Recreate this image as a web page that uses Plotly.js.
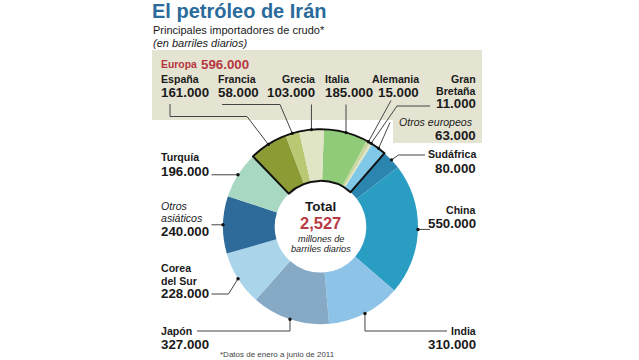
<!DOCTYPE html>
<html><head><meta charset="utf-8">
<script src="https://cdn.plot.ly/plotly-3.0.1.min.js"></script>
<style>html,body{margin:0;padding:0;background:#fff}#chart{width:639px;height:360px}</style>
</head><body><div id="chart"></div>
<script>
// ---- data ----
const countries = ['Italia','Alemania','Gran Bretaña','Otros europeos','Sudáfrica','China','India','Japón','Corea del Sur','Otros asiáticos','Turquía','España','Francia','Grecia'];
const barrels = [185000,15000,11000,63000,80000,550000,310000,327000,228000,240000,196000,161000,58000,103000];
const isEurope = [true,true,true,true,false,false,false,false,false,false,false,true,true,true];
const sliceColors = ['#8fcb78','#c9d59c','#dde3c2','#7fc8e8','#2b85ae','#2a9dc3','#8ec3e8','#86aac6','#a9d4ea','#2e6a9a','#a8d7c2','#8d9b35','#b9c873','#dfe5c5'];
const titleText = 'El petróleo de Irán';
const subtitleText = 'Principales importadores de crudo*';
const unitText = '(en barriles diarios)';
const europeName = 'Europa';
const centerTitle = 'Total';
const centerUnit = ['millones de','barriles diarios'];
const footnote = '*Datos de enero a junio de 2011';

// ---- layout constants ----
const W = 639, H = 360;
const CX = 320.5, CY = 226.7, R = 97.5, HOLE = 0.47, ROT = 2;
const FONT = 'Liberation Sans, Arial, Helvetica, sans-serif';
const px = x => x / W, py = y => 1 - y / H;
const fmt = n => String(n).replace(/\B(?=(\d{3})+(?!\d))/g, '.');

const total = barrels.reduce((a, b) => a + b, 0);
const europeSum = barrels.reduce((a, v, i) => a + (isEurope[i] ? v : 0), 0);

// label placement (layout only)
const labelLayout = {
  'España':         {x:160,   a:'left',  lines:['España'], ys:[79], numY:93,   path:[[170,104],[170,116.5],[247,116.5]]},
  'Francia':        {x:216.5, a:'left',  lines:['Francia'], ys:[79], numY:93,  path:[[222,104.5],[280,104.5]]},
  'Grecia':         {x:316,   a:'right', lines:['Grecia'], ys:[79], numY:93,   path:[['d',104.5]]},
  'Italia':         {x:324,   a:'left',  lines:['Italia'], ys:[79], numY:93,   path:[['d',104.5]]},
  'Alemania':       {x:420,   a:'right', lines:['Alemania'], ys:[79], numY:93, path:[[391,100.5]]},
  'Gran Bretaña':   {x:477,   a:'right', lines:['Gran','Bretaña'], ys:[79,91], numY:103.5, path:[[430,106],[397,106]]},
  'Otros europeos': {x:474,   a:'right', italic:true, lines:['Otros europeos'], ys:[121.5], numY:135, numX:477, path:[[390,122.5]]},
  'Sudáfrica':      {x:477,   a:'right', lines:['Sudáfrica'], ys:[154], numY:168, path:[[425,155],[398.5,155]]},
  'China':          {x:477,   a:'right', lines:['China'], ys:[210], numY:223.5, path:[[430,'d']]},
  'India':          {x:477,   a:'right', lines:['India'], ys:[331], numY:344, path:[[447,331],['d',331]]},
  'Japón':          {x:160,   a:'left',  lines:['Japón'], ys:[331], numY:344, path:[[197,331],['d',331]]},
  'Corea del Sur':  {x:160,   a:'left',  lines:['Corea','del Sur'], ys:[268,280.5], numY:293.5, path:[[211.5,294],[228.5,294]]},
  'Otros asiáticos':{x:160,   a:'left',  italic:true, lines:['Otros','asiáticos'], ys:[205.5,217.5], numY:231.5, path:[[211.5,'d']]},
  'Turquía':        {x:160,   a:'left',  lines:['Turquía'], ys:[157], numY:171.5, path:[[211.5,'d']]}
};

const annotations = [];
const shapes = [];
function txt(x, y, text, size, opts) {
  opts = opts || {};
  annotations.push({
    xref:'paper', yref:'paper', x:px(x), y:py(y), text:text, showarrow:false,
    xanchor:opts.a || 'left', yanchor:'middle', borderpad:0,
    font:{family:FONT, size:size, color:opts.color || '#1a1a1a', weight:opts.bold ? 700 : 400, style:opts.italic ? 'italic' : 'normal'}
  });
}

// Europe box (L-shape)
shapes.push({type:'path', xref:'paper', yref:'paper', layer:'below', line:{width:0}, fillcolor:'#e5e4d3',
  path:`M ${px(152)} ${py(50)} L ${px(482)} ${py(50)} L ${px(482)} ${py(143)} L ${px(393)} ${py(143)} L ${px(393)} ${py(120)} L ${px(152)} ${py(120)} Z`});

// leader lines + dots, computed from slice mid-angles
let cum = 0;
countries.forEach((c, i) => {
  const mid = ROT + (cum + barrels[i] / 2) / total * 360;
  cum += barrels[i];
  const th = mid * Math.PI / 180;
  const dx = CX + R * Math.sin(th), dy = CY - R * Math.cos(th);
  const L = labelLayout[c];
  const pts = L.path.map(p => [p[0] === 'd' ? dx : p[0], p[1] === 'd' ? dy : p[1]]);
  pts.push([dx, dy]);
  const d = pts.map((p, k) => (k ? 'L ' : 'M ') + px(p[0]) + ' ' + py(p[1])).join(' ');
  shapes.push({type:'path', xref:'paper', yref:'paper', layer:'above', path:d, line:{color:'#444', width:1}});
  const r = 1.7;
  shapes.push({type:'circle', xref:'paper', yref:'paper', layer:'above', x0:px(dx - r), x1:px(dx + r), y0:py(dy + r), y1:py(dy - r), fillcolor:'#111', line:{width:0}});
  // labels
  L.lines.forEach((ln, k) => txt(L.x, L.ys[k], ln, 10.6, {a:L.a, bold:!L.italic, italic:L.italic}));
  txt(L.numX || L.x, L.numY, fmt(barrels[i]), 13.3, {a:L.a, bold:true});
});

// titles
txt(151, 10.5, titleText, 20, {bold:true, color:'#2b6b9b'});
txt(152, 30, subtitleText, 11);
txt(152, 43, unitText, 11, {italic:true});
txt(159.5, 64, europeName, 10.4, {bold:true, color:'#b5373f'});
txt(200.5, 64, fmt(europeSum), 13.3, {bold:true, color:'#b5373f'});

// centre
txt(CX, 207, centerTitle, 13.5, {a:'center', bold:true});
txt(CX, 223, (total / 1e6).toFixed(3).replace('.', ','), 16.5, {a:'center', bold:true, color:'#b83a45'});
txt(CX, 239, centerUnit[0], 9.2, {a:'center', italic:true});
txt(CX, 249, centerUnit[1], 9.2, {a:'center', italic:true});

// footnote
txt(219, 354, footnote, 8, {color:'#444'});

const domain = {x:[px(CX - R), px(CX + R)], y:[py(CY + R), py(CY - R)]};

// start angle of Europe group
let startIdx = isEurope.findIndex((e, i) => e && !isEurope[(i - 1 + isEurope.length) % isEurope.length]);
const before = barrels.slice(0, startIdx).reduce((a, b) => a + b, 0);
const euroRot = ROT + before / total * 360;

const traces = [
  {type:'pie', values:barrels, labels:countries, sort:false, direction:'clockwise', rotation:ROT, hole:HOLE,
   domain:domain, textinfo:'none', marker:{colors:sliceColors, line:{width:0}}, showlegend:false, hoverinfo:'label+value'},
  {type:'pie', values:[europeSum, total - europeSum], labels:[europeName, 'Resto'], sort:false, direction:'clockwise',
   rotation:euroRot, hole:HOLE, domain:domain, textinfo:'none', showlegend:false, hoverinfo:'skip',
   marker:{colors:['rgba(0,0,0,0)','rgba(0,0,0,0)'], line:{color:['#111','rgba(0,0,0,0)'], width:[2,0]}}}
];

Plotly.newPlot('chart', traces, {
  width:W, height:H, margin:{l:0, r:0, t:0, b:0}, paper_bgcolor:'#ffffff', plot_bgcolor:'#ffffff',
  showlegend:false, annotations:annotations, shapes:shapes
}, {displayModeBar:false, staticPlot:true});
</script></body></html>
